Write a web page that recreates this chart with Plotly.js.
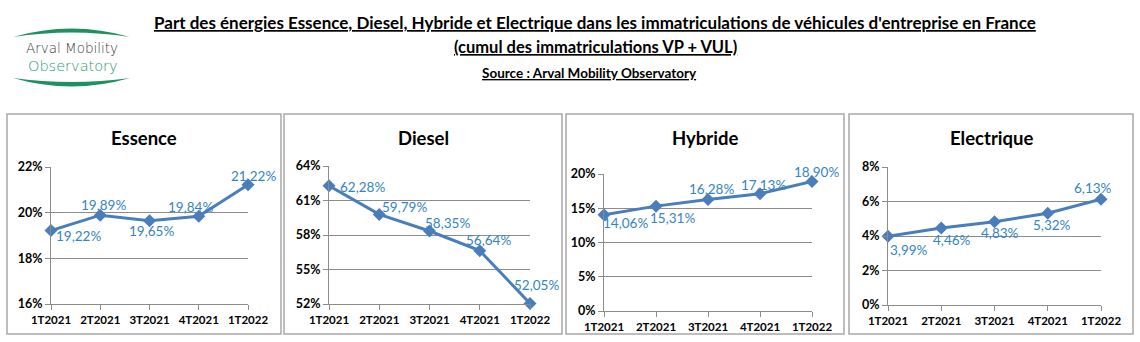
<!DOCTYPE html>
<html><head><meta charset="utf-8">
<script src="https://cdn.plot.ly/plotly-3.0.1.min.js"></script>
<style>html,body{margin:0;padding:0;background:#fff;}</style>
</head><body><div id="chart" style="width:1140px;height:342px;"></div>
<script>
// ---- data ----
const quarters = ['1T2021','2T2021','3T2021','4T2021','1T2022'];
const essence = [19.22,19.89,19.65,19.84,21.22];
const diesel = [62.28,59.79,58.35,56.64,52.05];
const hybride = [14.06,15.31,16.28,17.13,18.90];
const electrique = [3.99,4.46,4.83,5.32,6.13];
const panelTitles = ['Essence','Diesel','Hybride','Electrique'];
const seriesList = [essence, diesel, hybride, electrique];

const mainTitle1 = "Part des énergies Essence, Diesel, Hybride et Electrique dans les immatriculations de véhicules d'entreprise en France";
const mainTitle2 = "(cumul des immatriculations VP + VUL)";
const sourceText = "Source : Arval Mobility Observatory";
const logoLine1 = "Arval Mobility";
const logoLine2 = "Observatory";

// ---- layout config (pixels) ----
const W = 1140, H = 342;
const X = px => px / W;
const Y = py => 1 - py / H;
const FONT = 'Lato, "Open Sans", sans-serif';
const LINE = '#4a7ebb';
const LABEL = '#3584c4';
const GRID = '#8c8c8c';

const panels = [
  {box:[7,281,114,334], plot:[51,248,167,304], range:[16,22], dtick:2,
   off:[[27,6],[3,-10],[2,10],[-8,-9],[5,-9]]},
  {box:[284,562,114,334], plot:[329,530,166,304], range:[52,64], dtick:3,
   off:[[33,1],[25,-7],[18,-8],[9,-11],[6,-18]]},
  {box:[566,844,114,334], plot:[604,812,174,311], range:[0,20], dtick:5,
   off:[[21,8],[16,12],[3,-10],[3,-9],[4,-10]]},
  {box:[849,1133,114,334], plot:[888,1101,167,305], range:[0,8], dtick:2,
   off:[[21,14],[11,12],[5,11],[4,12],[-8,-11]]}
];

const fmt = v => v.toFixed(2).replace('.', ',') + '%';

const traces = [];
const layout = {
  width: W, height: H,
  margin: {l:0, r:0, t:0, b:0},
  paper_bgcolor: '#fff', plot_bgcolor: '#fff',
  showlegend: false,
  font: {family: FONT, color: '#000'},
  annotations: [], shapes: []
};

panels.forEach((p, i) => {
  const n = i === 0 ? '' : String(i + 1);
  const vals = seriesList[i];
  traces.push({
    type: 'scatter', mode: 'lines+markers',
    x: quarters, y: vals,
    xaxis: 'x' + n, yaxis: 'y' + n,
    line: {color: LINE, width: 3},
    marker: {symbol: 'diamond', size: 10, color: LINE},
    cliponaxis: false, hoverinfo: 'skip'
  });
  layout['xaxis' + n] = {
    domain: [X(p.plot[0]), X(p.plot[1])],
    anchor: 'y' + n, type: 'category', range: [0, 4], autorange: false,
    showgrid: false, zeroline: false, showline: true, linecolor: GRID, linewidth: 1,
    ticks: 'outside', ticklen: 5, tickcolor: GRID,
    tickfont: {family: FONT, size: 11.5, color: '#000', weight: 'bold'},
    fixedrange: true
  };
  layout['yaxis' + n] = {
    domain: [Y(p.plot[3]), Y(p.plot[2])],
    anchor: 'x' + n, range: p.range, autorange: false, dtick: p.dtick, tick0: p.range[0],
    ticksuffix: '%',
    showgrid: true, gridcolor: GRID, gridwidth: 1, zeroline: false,
    showline: true, linecolor: GRID, linewidth: 1,
    ticks: 'outside', ticklen: 5, tickcolor: GRID,
    tickfont: {family: FONT, size: 12.5, color: '#000', weight: 'bold'},
    fixedrange: true
  };
  // panel border
  layout.shapes.push({type: 'rect', xref: 'paper', yref: 'paper',
    x0: X(p.box[0]), x1: X(p.box[1]), y0: Y(p.box[3]), y1: Y(p.box[2]),
    line: {color: '#a8a8a8', width: 1.5}});
  // panel title
  layout.annotations.push({xref: 'paper', yref: 'paper',
    x: X((p.box[0] + p.box[1]) / 2), y: Y(138), xanchor: 'center', yanchor: 'middle',
    text: panelTitles[i], showarrow: false,
    font: {family: FONT, size: 18.5, color: '#000', weight: 'bold'}});
  // data labels
  vals.forEach((v, k) => {
    layout.annotations.push({xref: 'x' + n, yref: 'y' + n,
      x: quarters[k], y: v, text: fmt(v), showarrow: false,
      xanchor: 'center', yanchor: 'middle',
      xshift: p.off[k][0], yshift: -p.off[k][1],
      font: {family: FONT, size: 13.5, color: LABEL}});
  });
});

// main titles
layout.annotations.push({xref:'paper', yref:'paper', x: X(595), y: Y(22),
  xanchor:'center', yanchor:'middle', showarrow:false,
  text: '<u>' + mainTitle1 + '</u>',
  font:{family: FONT, size: 17, color:'#000', weight:'bold'}});
layout.annotations.push({xref:'paper', yref:'paper', x: X(595), y: Y(47),
  xanchor:'center', yanchor:'middle', showarrow:false,
  text: '<u>' + mainTitle2 + '</u>',
  font:{family: FONT, size: 16.5, color:'#000', weight:'bold'}});
layout.annotations.push({xref:'paper', yref:'paper', x: X(589), y: Y(73),
  xanchor:'center', yanchor:'middle', showarrow:false,
  text: '<u>' + sourceText + '</u>',
  font:{family: FONT, size: 13.5, color:'#000', weight:'bold'}});

// logo
layout.annotations.push({xref:'paper', yref:'paper', x: X(72), y: Y(48),
  xanchor:'center', yanchor:'middle', showarrow:false, text: logoLine1,
  font:{family:'"DejaVu Sans", sans-serif', size:13.5, color:'#3a3a3a', weight:200}});
layout.annotations.push({xref:'paper', yref:'paper', x: X(73), y: Y(66),
  xanchor:'center', yanchor:'middle', showarrow:false, text: logoLine2,
  font:{family:'"DejaVu Sans", sans-serif', size:14.5, color:'#2a9a6e', weight:200}});
const lens = (x0, x1, yEnd, yOuter, yInner) => {
  const xm = (x0 + x1) / 2;
  return 'M ' + X(x0) + ' ' + Y(yEnd) + ' Q ' + X(xm) + ' ' + Y(yOuter) + ' ' + X(x1) + ' ' + Y(yEnd) +
         ' Q ' + X(xm) + ' ' + Y(yInner) + ' ' + X(x0) + ' ' + Y(yEnd) + ' Z';
};
layout.shapes.push({type:'path', xref:'paper', yref:'paper', path: lens(13,130,37,20,28),
  fillcolor:'#1f9160', line:{width:0}});
layout.shapes.push({type:'path', xref:'paper', yref:'paper', path: lens(13,130,78,95,86),
  fillcolor:'#1f9160', line:{width:0}});

Plotly.newPlot('chart', traces, layout, {staticPlot: true, displayModeBar: false});
</script></body></html>
